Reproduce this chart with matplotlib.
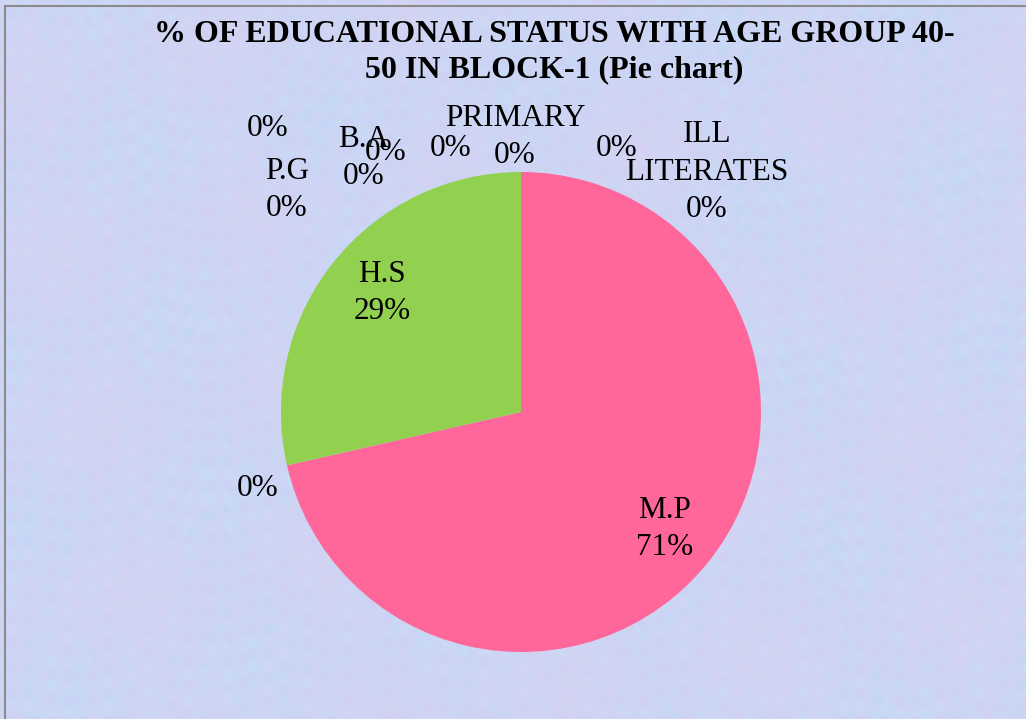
import numpy as np
import matplotlib
matplotlib.use("Agg")
import matplotlib.pyplot as plt
from matplotlib.patches import Rectangle

# ---- data ----
categories = ["M.P", "H.S", "", "", "P.G", "", "B.A", "", "PRIMARY", "", "ILL LITERATES"]
values = [5, 2, 0, 0, 0, 0, 0, 0, 0, 0, 0]
colors = ["#FF6699", "#92D050", "#4F81BD", "#C0504D", "#8064A2", "#4BACC6",
          "#F79646", "#2C4D75", "#772C2A", "#5F7530", "#4D3B62"]
title = "% OF EDUCATIONAL STATUS WITH AGE GROUP 40-\n50 IN BLOCK-1 (Pie chart)"

# ---- layout (pixel positions of the data labels, y from top) ----
W, H = 1026, 719
label_pos = {
    0: (665, 529), 1: (382, 293), 2: (258, 489), 3: (268, 128),
    4: (287, 190), 5: (386, 152), 6: (364, 158), 7: (451, 148),
    8: (515, 137), 9: (617, 148), 10: (707, 172),
}
center = (521, H - 412)
radius = 240

fig = plt.figure(figsize=(W / 100, H / 100), dpi=100)
ax = fig.add_axes([0, 0, 1, 1])
ax.set_xlim(0, W)
ax.set_ylim(0, H)
ax.axis("off")

# pastel textured background (deterministic pattern)
yy, xx = np.mgrid[0:H, 0:W].astype(float)
p1 = 0.5 + 0.5 * np.sin(xx / 5.0 + np.sin(yy / 9.0) * 2.0) * np.cos(yy / 7.0 - xx / 19.0)
p2 = 0.5 + 0.5 * np.sin(yy / 4.0 + np.cos(xx / 11.0) * 2.5) * np.sin(xx / 6.3)
p3 = 0.5 + 0.5 * np.sin(xx / 53.0 + yy / 71.0) * np.sin(yy / 47.0 - xx / 83.0)
blue = np.array([196, 214, 246]) / 255
lav = np.array([212, 206, 242]) / 255
cyan = np.array([206, 232, 248]) / 255
pink = np.array([224, 206, 238]) / 255
img = (blue[None, None, :] * (1 - 0.6 * p1[..., None]) + lav[None, None, :] * 0.6 * p1[..., None])
img = img * (1 - 0.3 * p2[..., None]) + cyan[None, None, :] * 0.3 * p2[..., None]
img = img * (1 - 0.35 * p3[..., None]) + pink[None, None, :] * 0.35 * p3[..., None]
ax.imshow(img, extent=[0, W, 0, H], origin="upper", zorder=0, aspect="auto")

ax.add_patch(Rectangle((5, -5), W + 10, H - 6 + 5, fill=False, edgecolor="#8C8C8C",
                       linewidth=1.5, zorder=1))

ax.pie(values, colors=colors, startangle=90, counterclock=False, center=center,
       radius=radius, wedgeprops=dict(linewidth=0), frame=False)
ax.set_xlim(0, W)
ax.set_ylim(0, H)
ax.set_aspect("auto")
ax.axis("off")

total = sum(values)
for i, (name, v) in enumerate(zip(categories, values)):
    pct = f"{round(100 * v / total)}%"
    txt = pct if name == "" else name.replace(" ", "\n") + "\n" + pct
    x, y = label_pos[i]
    ax.text(x, H - y, txt, ha="center", va="center", fontsize=22.5,
            family="Liberation Serif", linespacing=1.37, zorder=5)

ax.text(554, H - 52, title, ha="center", va="center", fontsize=23,
        family="Liberation Serif", fontweight="bold", linespacing=1.3, zorder=5)

fig.savefig("out.png", dpi=100)
